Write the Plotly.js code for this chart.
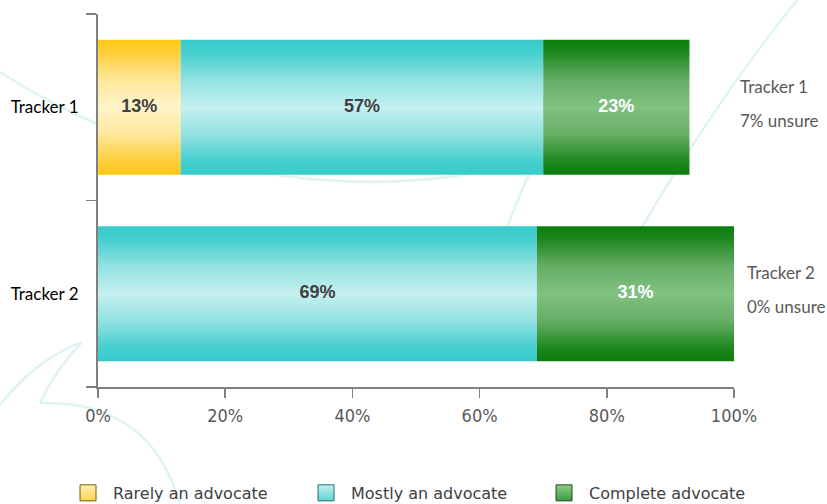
<!DOCTYPE html>
<html>
<head>
<meta charset="utf-8">
<script src="https://cdn.plot.ly/plotly-3.0.1.min.js"></script>
<style>
  html, body { margin: 0; padding: 0; background: #ffffff; }
  #chart { width: 827px; height: 504px; }
</style>
</head>
<body>
<div id="chart"></div>
<script>
// ---- data ----
const categories = ['Tracker 1', 'Tracker 2'];
const seriesNames = ['Rarely an advocate', 'Mostly an advocate', 'Complete advocate'];
const rarely = [13, 0];
const mostly = [57, 69];
const complete = [23, 31];
const unsure = [7, 0];
const xTickVals = [0, 20, 40, 60, 80, 100];
const xTickText = ['0%', '20%', '40%', '60%', '80%', '100%'];

// ---- styles ----
const seriesValues = [rarely, mostly, complete];
const gradients = [
  [[0, '#ffc712'], [0.1, '#ffcf3a'], [0.3, '#ffe79c'], [0.5, '#fff4c9'], [0.7, '#ffe79c'], [0.9, '#ffcf3a'], [1, '#ffc712']],
  [[0, '#36cbcb'], [0.1, '#46cfcf'], [0.3, '#93e1e1'], [0.5, '#c5f0f0'], [0.7, '#93e1e1'], [0.9, '#46cfcf'], [1, '#36cbcb']],
  [[0, '#0b7d0b'], [0.1, '#1f881f'], [0.3, '#66ae66'], [0.5, '#81c181'], [0.7, '#66ae66'], [0.9, '#1f881f'], [1, '#0b7d0b']]
];
const legendColors = ['#ffd24a', '#5ad6d6', '#3a9a3a'];
const legendLight = ['#fff0b8', '#c5f0f0', '#90cc90'];
const legendEdge = ['#7a5c00', '#1f6f6f', '#1e4d1e'];
const labelColors = ['#404040', '#404040', '#ffffff'];
const halfBar = 0.362;

const traces = [];
// gradient-filled bar segments
seriesValues.forEach((vals, s) => {
  vals.forEach((v, i) => {
    if (!v) return;
    let start = 0;
    for (let k = 0; k < s; k++) start += seriesValues[k][i];
    traces.push({
      type: 'scatter', mode: 'lines',
      x: [start, start + v, start + v, start, start],
      y: [i - halfBar, i - halfBar, i + halfBar, i + halfBar, i - halfBar],
      fill: 'toself',
      fillcolor: gradients[s][3][1],
      fillgradient: { type: 'vertical', colorscale: gradients[s] },
      line: { width: 0, color: 'rgba(0,0,0,0)' },
      hoverinfo: 'skip', showlegend: false
    });
  });
});
// value labels
seriesValues.forEach((vals, s) => {
  const xs = [], ys = [], ts = [];
  vals.forEach((v, i) => {
    if (!v) return;
    let start = 0;
    for (let k = 0; k < s; k++) start += seriesValues[k][i];
    xs.push(start + v / 2); ys.push(i); ts.push(v + '%');
  });
  traces.push({
    type: 'scatter', mode: 'text', x: xs, y: ys, text: ts,
    textposition: 'middle center',
    textfont: { family: 'Liberation Sans, Arial, sans-serif', size: 18, weight: 'bold', color: labelColors[s] },
    hoverinfo: 'skip', showlegend: false
  });
});
// legend entries
seriesNames.forEach((name, s) => {
  traces.push({
    type: 'scatter', mode: 'markers', x: [null], y: [null], name: name,
    marker: {
      symbol: 'square', size: 16, color: legendLight[s],
      gradient: { type: 'vertical', color: legendColors[s] },
      line: { color: legendEdge[s], width: 1 }
    },
    showlegend: true
  });
});

// right-hand notes (paper x just right of the plot)
const noteX = [1.0063, 1.0173];
const annotations = [];
categories.forEach((c, i) => {
  annotations.push({
    xref: 'paper', yref: 'y', x: noteX[i], y: i, yshift: 21, xanchor: 'left', yanchor: 'middle',
    text: c, showarrow: false,
    font: { family: 'Lato, sans-serif', size: 17, color: '#595959' }
  });
  annotations.push({
    xref: 'paper', yref: 'y', x: noteX[i], y: i, yshift: -13, xanchor: 'left', yanchor: 'middle',
    text: unsure[i] + '% unsure', showarrow: false,
    font: { family: 'Lato, sans-serif', size: 17, color: '#595959' }
  });
});

// faint decorative swirls (pixel -> paper)
const L = 98, T = 14, W = 636, H = 373;
function pp(X, Y) { return ((X - L) / W).toFixed(4) + ',' + ((T + H - Y) / H).toFixed(4); }
const swirlPaths = [
  'M' + pp(0, 72) + ' C' + pp(120, 150) + ' ' + pp(300, 205) + ' ' + pp(480, 172),
  'M' + pp(797, 0) + ' Q' + pp(700, 120) + ' ' + pp(600, 300),
  'M' + pp(545, 140) + ' Q' + pp(520, 190) + ' ' + pp(495, 260),
  'M' + pp(0, 405) + ' Q' + pp(35, 360) + ' ' + pp(82, 342),
  'M' + pp(82, 342) + ' Q' + pp(55, 370) + ' ' + pp(40, 403),
  'M' + pp(40, 403) + ' Q' + pp(150, 400) + ' ' + pp(180, 504)
];
const shapes = swirlPaths.map(p => ({
  type: 'path', xref: 'paper', yref: 'paper', path: p, layer: 'below',
  line: { color: '#e0f3f3', width: 2.5 }
}));

const layout = {
  width: 827, height: 504,
  margin: { l: 98, r: 93, t: 14, b: 117, autoexpand: false },
  paper_bgcolor: '#ffffff', plot_bgcolor: 'rgba(0,0,0,0)',
  showlegend: true,
  xaxis: {
    range: [0, 100], tickmode: 'array', tickvals: xTickVals, ticktext: xTickText,
    ticks: 'outside', ticklen: 9, tickwidth: 1.5, tickcolor: '#808080',
    showline: true, linecolor: '#808080', linewidth: 1.5,
    showgrid: false, zeroline: false, ticklabelstandoff: 3,
    tickfont: { family: 'DejaVu Sans Condensed, DejaVu Sans, sans-serif', size: 18, color: '#595959' },
    fixedrange: true
  },
  yaxis: {
    range: [1.5, -0.5], tickmode: 'array', tickvals: [0, 1], ticktext: categories,
    ticks: '', showline: true, linecolor: '#808080', linewidth: 2,
    showgrid: false, zeroline: false, ticklabelstandoff: 14,
    tickfont: { family: 'Lato, sans-serif', size: 17, color: '#000000' },
    minor: { tickmode: 'array', tickvals: [-0.5, 0.5, 1.5], ticks: 'outside', ticklen: 10, tickwidth: 1.5, tickcolor: '#808080', showgrid: false },
    fixedrange: true
  },
  legend: {
    orientation: 'h', x: -0.055, y: -0.284, xanchor: 'left', yanchor: 'middle',
    itemwidth: 40,
    entrywidth: 183, entrywidthmode: 'pixels', traceorder: 'normal',
    font: { family: 'DejaVu Sans, sans-serif', size: 16, color: '#404040' },
    bgcolor: 'rgba(0,0,0,0)', itemclick: false, itemdoubleclick: false
  },
  annotations: annotations,
  shapes: shapes
};

Plotly.newPlot('chart', traces, layout, { displayModeBar: false, staticPlot: true });
</script>
</body>
</html>
